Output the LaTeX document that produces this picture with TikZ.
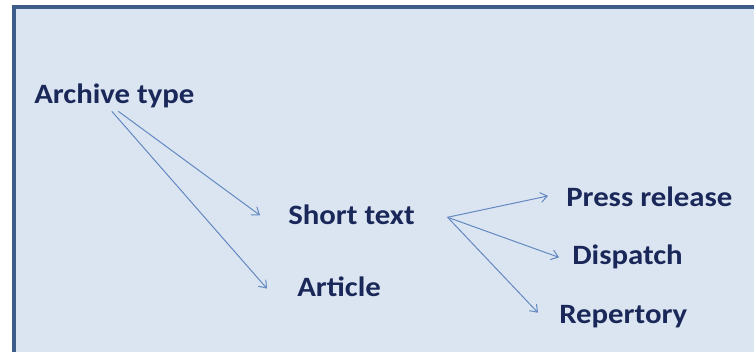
\documentclass[tikz,border=0pt]{standalone}
\usepackage{fontspec}
\setmainfont[FakeStretch=1.1]{Carlito}
\usetikzlibrary{arrows.meta}
\definecolor{slidebg}{HTML}{DBE5F1}
\definecolor{slideframe}{HTML}{3E5C8A}
\definecolor{kindink}{HTML}{1A2759}
\definecolor{linkblue}{HTML}{6389C0}
\tikzstyle{kind}=[inner sep=0pt, anchor=base west, text=kindink, font=\fontsize{21pt}{25pt}\selectfont\bfseries]
\tikzstyle{link}=[draw=linkblue, line width=0.75pt, -{Straight Barb[length=5pt, width=7.5pt]}]

\begin{document}
\begin{tikzpicture}[x=0.75pt, y=-0.75pt]
        \clip (0, 0) rectangle (754, 352);
        \fill[slidebg] (14, 7) rectangle (760, 360);
        \draw[slideframe, line width=2.4pt] (14, 360) -- (14, 7) -- (760, 7);
        \node[kind] (arch)     at (34, 104)  {Archive type};
        \node[kind] (short)    at (288, 225) {Short text};
        \node[kind] (article)  at (297, 297) {Article};
        \node[kind] (press)    at (566, 207) {Press release};
        \node[kind] (dispatch) at (572, 265) {Dispatch};
        \node[kind] (repert)   at (559, 324) {Repertory};
        \draw[link] ([xshift=3pt, yshift=-2pt]arch.south) -- ([xshift=-21pt]short.west);
        \draw[link] ([xshift=-1.9pt, yshift=-2pt]arch.south) -- ([xshift=-22.5pt, yshift=-1pt]article.west);
        \draw[link] ([xshift=24.5pt, yshift=-1.5pt]short.east) -- ([xshift=-13.5pt, yshift=1pt]press.west);
        \draw[link] ([xshift=24.5pt, yshift=-1.5pt]short.east) -- ([xshift=-9.75pt]dispatch.west);
        \draw[link] ([xshift=24.5pt, yshift=-1.5pt]short.east) -- ([xshift=-15.75pt, yshift=3.3pt]repert.west);
\end{tikzpicture}
\end{document}
